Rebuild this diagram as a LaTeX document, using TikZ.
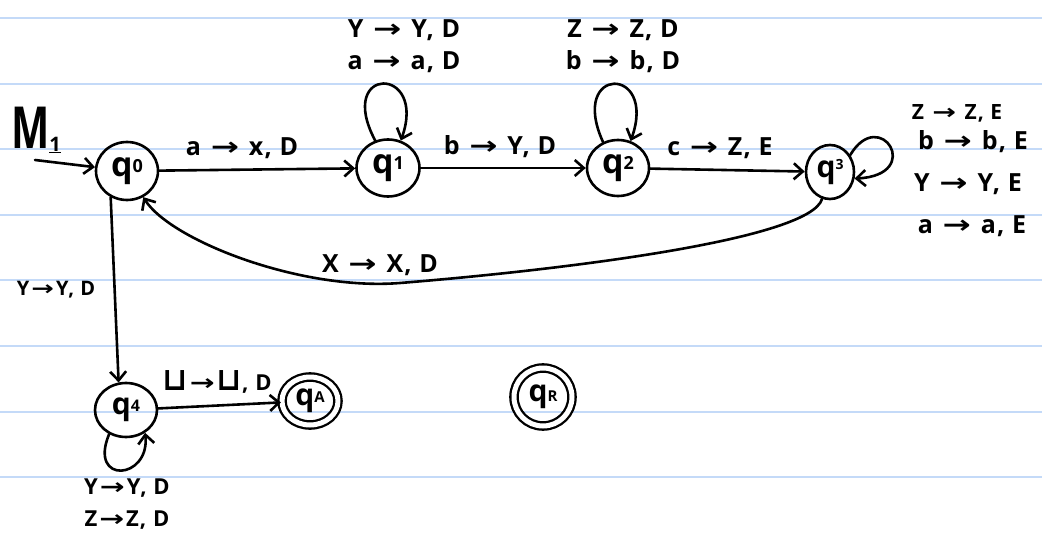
\documentclass[tikz,border=0pt]{standalone}
\usepackage{fontspec}
\setmainfont{Open Sans}[LetterSpace=5]
\newfontfamily\arrfont{DejaVu Sans}
\newcommand\tarr{\kern2pt\scalebox{1.35}[1]{\arrfont\bfseries →}\kern2pt}
\newcommand\cupsym{\raisebox{-0.05ex}{\scalebox{1.45}{\arrfont\bfseries ⊔}}}
\usetikzlibrary{arrows.meta,shapes.geometric}
\definecolor{ruled}{RGB}{196,218,248}
\begin{document}
\begin{tikzpicture}[x=1pt,y=-1pt,
  ink/.style={line width=2.6pt, line cap=round, line join=round},
  st/.style={ink, draw, ellipse, inner sep=0pt, font=\bfseries\fontsize{34}{34}\selectfont},
  acc/.style={st, double, double distance=5pt, line width=2.3pt, font=\bfseries\fontsize{30}{30}\selectfont},
  lbl/.style={font=\bfseries\fontsize{25}{32}\selectfont, inner sep=0pt, align=center},
  arr/.style={ink, -{Straight Barb[length=9pt,width=16pt]}},
  rule/.style={draw=ruled, line width=2pt}]
\useasboundingbox (0,0) rectangle (1042,535);
\fill[white] (0,0) rectangle (1042,535);
% ruled paper
\foreach \yy in {18,83.6,149.2,214.8,280.4,346,411.6,477.2}
  \draw[rule] (0,\yy) -- (1042,\yy);
% states
\node[st, minimum width=62pt, minimum height=58pt] (q0) at (127,171) {q\raisebox{0.2ex}{\fontsize{18}{18}\selectfont 0}};
\node[st, minimum width=63pt, minimum height=57pt] (q1) at (388,168) {q\raisebox{0.2ex}{\fontsize{18}{18}\selectfont 1}};
\node[st, minimum width=62pt, minimum height=56pt] (q2) at (618,168) {q\raisebox{0.2ex}{\fontsize{18}{18}\selectfont 2}};
\node[st, minimum width=48pt, minimum height=54pt, font=\bfseries\fontsize{30}{30}\selectfont] (q3) at (830,172) {q\raisebox{0.5ex}{\fontsize{14}{14}\selectfont 3}};
\node[st, minimum width=62pt, minimum height=54pt, font=\bfseries\fontsize{30}{30}\selectfont] (q4) at (126,410) {q\raisebox{0.2ex}{\fontsize{16}{16}\selectfont 4}};
\node[acc, minimum width=56pt, minimum height=48pt] (qA) at (310,401) {q\raisebox{0.2ex}{\fontsize{15}{15}\selectfont A}};
\node[acc, minimum width=58pt, minimum height=58pt] (qR) at (543,397) {q\raisebox{0ex}{\fontsize{15}{15}\selectfont R}};
% start
\node[font=\bfseries\fontsize{58}{58}\selectfont, inner sep=0pt] (m1) at (36,130) {\scalebox{0.7}[1]{M}\raisebox{-0.1ex}{\fontsize{20}{20}\selectfont\underline{1}}};
\coordinate (init) at (35,160);
\draw[arr] (init) -- (q0);
% transitions
\draw[arr] (q0) -- (q1);
\draw[arr] (q1) -- (q2);
\draw[arr] (q2) -- (q3);
\draw[arr] (q3) .. controls (810,240) and (560,270) .. (400,283)
               .. controls (300,291) and (170,240) .. (q0);
\draw[arr] (q0.238) -- (q4.105);
\draw[arr] (q4) -- (qA);
% loops
\draw[arr] (q1.115) .. controls (335,65) and (428,65) .. (q1.65);
\draw[arr] (q2.120) .. controls (568,65) and (658,65) .. (q2.65);
\draw[arr] (q3.40) .. controls (880,105) and (925,175) .. (q3.345);
\draw[arr] (q4.235) .. controls (88,485) and (150,480) .. (q4.310);
% labels
\node[lbl] (l01) at (242,148) {a \tarr\ x, D};
\node[lbl] (l12) at (500,147) {b \tarr\ Y, D};
\node[lbl] (l23) at (720,148) {c \tarr\ Z, E};
\node[lbl] (l30) at (380,265) {X \tarr\ X, D};
\node[lbl] (l11) at (404,46) {Y \tarr\ Y, D\\a \tarr\ a, D};
\node[lbl] (l22) at (623,46) {Z \tarr\ Z, D\\b \tarr\ b, D};
\node[lbl, font=\bfseries\fontsize{21}{22}\selectfont] (l33a) at (957,113) {Z \tarr\ Z, E};
\node[lbl] (l33b) at (973,142) {b \tarr\ b, E};
\node[lbl] (l33c) at (968,184) {Y \tarr\ Y, E};
\node[lbl] (l33d) at (972,226) {a \tarr\ a, E};
\node[lbl, font=\bfseries\fontsize{20}{20}\selectfont] (l04) at (56,290) {Y\tarr Y, D};
\node[lbl, font=\bfseries\fontsize{22}{22}\selectfont] (l4A) at (217,382) {\cupsym\tarr\cupsym, D};
\node[lbl, font=\bfseries\fontsize{22}{32}\selectfont] (l44) at (127,504) {Y\tarr Y, D\\Z\tarr Z, D};
\end{tikzpicture}
\end{document}
